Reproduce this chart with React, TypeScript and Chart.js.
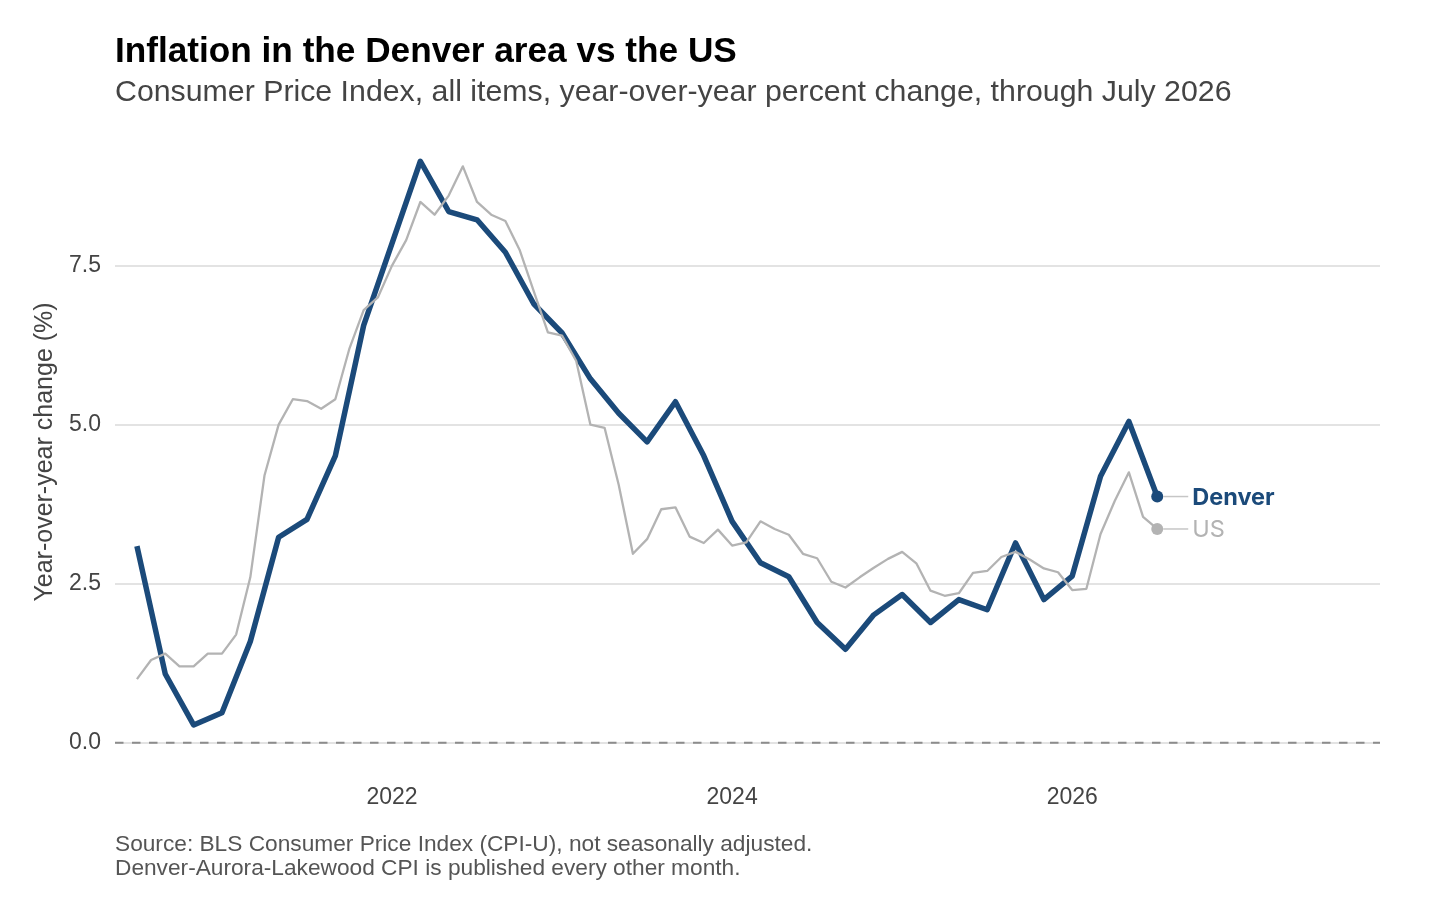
import React, { useEffect, useRef } from "react";
import { Chart, registerables } from "chart.js";

Chart.register(...registerables);

// ---------- text ----------
const TITLE = "Inflation in the Denver area vs the US";
const SUBTITLE =
  "Consumer Price Index, all items, year-over-year percent change, through July 2026";
const CAPTION = [
  "Source: BLS Consumer Price Index (CPI-U), not seasonally adjusted.",
  "Denver-Aurora-Lakewood CPI is published every other month.",
];
const Y_TITLE = "Year-over-year change (%)";

// ---------- data ----------
const usMonths = [
  "2020-07", "2020-08", "2020-09", "2020-10", "2020-11", "2020-12",
  "2021-01", "2021-02", "2021-03", "2021-04", "2021-05", "2021-06",
  "2021-07", "2021-08", "2021-09", "2021-10", "2021-11", "2021-12",
  "2022-01", "2022-02", "2022-03", "2022-04", "2022-05", "2022-06",
  "2022-07", "2022-08", "2022-09", "2022-10", "2022-11", "2022-12",
  "2023-01", "2023-02", "2023-03", "2023-04", "2023-05", "2023-06",
  "2023-07", "2023-08", "2023-09", "2023-10", "2023-11", "2023-12",
  "2024-01", "2024-02", "2024-03", "2024-04", "2024-05", "2024-06",
  "2024-07", "2024-08", "2024-09", "2024-10", "2024-11", "2024-12",
  "2025-01", "2025-02", "2025-03", "2025-04", "2025-05", "2025-06",
  "2025-07", "2025-08", "2025-09", "2025-10", "2025-11", "2025-12",
  "2026-01", "2026-02", "2026-03", "2026-04", "2026-05", "2026-06",
  "2026-07",
];
const usValues = [
  1.0, 1.3, 1.4, 1.2, 1.2, 1.4,
  1.4, 1.7, 2.6, 4.2, 5.0, 5.4, 5.37, 5.25, 5.4, 6.2, 6.8, 7.0,
  7.5, 7.9, 8.5, 8.3, 8.6, 9.06, 8.5, 8.3, 8.2, 7.75, 7.1, 6.45,
  6.4, 6.0, 5.0, 4.95, 4.05, 2.97, 3.2, 3.67, 3.7, 3.24, 3.14, 3.35,
  3.1, 3.15, 3.48, 3.36, 3.27, 2.97, 2.9, 2.53, 2.44, 2.6, 2.75, 2.89,
  3.0, 2.82, 2.39, 2.31, 2.35, 2.67, 2.7, 2.92, 3.0, 2.88, 2.74, 2.68,
  2.4, 2.42, 3.28, 3.8, 4.25, 3.55, 3.36,
];

const denverMonths = [
  "2020-07", "2020-09", "2020-11",
  "2021-01", "2021-03", "2021-05", "2021-07", "2021-09", "2021-11",
  "2022-01", "2022-03", "2022-05", "2022-07", "2022-09", "2022-11",
  "2023-01", "2023-03", "2023-05", "2023-07", "2023-09", "2023-11",
  "2024-01", "2024-03", "2024-05", "2024-07", "2024-09", "2024-11",
  "2025-01", "2025-03", "2025-05", "2025-07", "2025-09", "2025-11",
  "2026-01", "2026-03", "2026-05", "2026-07",
];
const denverValues = [
  3.09, 1.08, 0.28,
  0.47, 1.59, 3.23, 3.51, 4.51, 6.56,
  7.85, 9.14, 8.35, 8.22, 7.71, 6.9,
  6.44, 5.72, 5.18, 4.73, 5.36, 4.51,
  3.48, 2.83, 2.61, 1.89, 1.47, 2.01,
  2.33, 1.89, 2.25, 2.09, 3.14, 2.25,
  2.62, 4.19, 5.05, 3.87,
];

const seriesNames = ["US", "Denver"];
const xTickYears = [2022, 2024, 2026];
const yTickValues = [0, 2.5, 5, 7.5];

// ---------- style ----------
const FONT = "'Liberation Sans', Arial, Helvetica, sans-serif";
const LABEL_FONT = "Inter, 'Liberation Sans', sans-serif";
const DENVER_COLOR = "#1b4a7a";
const US_COLOR = "#b3b3b3";
const GRID_COLOR = "#e3e3e3";
const TEXT_COLOR = "#444444";

const toYear = (m: string) => {
  const [y, mo] = m.split("-").map(Number);
  return y + (mo - 1) / 12;
};

const zeroLinePlugin = {
  id: "zeroLine",
  beforeDatasetsDraw(chart: any) {
    const c = chart.ctx;
    const y = chart.scales.y.getPixelForValue(0);
    const { left, right } = chart.chartArea;
    c.save();
    c.strokeStyle = "#8c8c8c";
    c.lineWidth = 2;
    c.setLineDash([8.5, 8.5]);
    c.beginPath();
    c.moveTo(left, y);
    c.lineTo(right, y);
    c.stroke();
    c.restore();
  },
};

const endLabelPlugin = {
  id: "endLabels",
  afterDatasetsDraw(chart: any) {
    const c = chart.ctx;
    chart.data.datasets.forEach((ds: any, di: number) => {
      const meta = chart.getDatasetMeta(di);
      const pt = meta.data[meta.data.length - 1];
      if (!pt) return;
      const { x, y } = pt;
      const isDenver = ds.label === "Denver";
      c.save();
      c.strokeStyle = "#c6c6c6";
      c.lineWidth = 1.5;
      c.beginPath();
      c.moveTo(x + 6, y);
      c.lineTo(x + 31, y);
      c.stroke();
      c.font = `${isDenver ? 700 : 400} 23.5px ${LABEL_FONT}`;
      c.fillStyle = isDenver ? DENVER_COLOR : US_COLOR;
      c.textBaseline = "middle";
      c.textAlign = "left";
      c.fillText(ds.label, x + 35, y + 1);
      c.restore();
    });
  },
};

export default function App() {
  const ref = useRef<HTMLCanvasElement>(null);

  useEffect(() => {
    if (!ref.current) return;
    const lastUs = usValues.length - 1;
    const lastDen = denverValues.length - 1;
    const chart = new Chart(ref.current, {
      type: "line",
      data: {
        datasets: [
          {
            label: seriesNames[0],
            data: usMonths.map((m, i) => ({ x: toYear(m), y: usValues[i] })),
            borderColor: US_COLOR,
            backgroundColor: US_COLOR,
            borderWidth: 2.3,
            borderJoinStyle: "round",
            tension: 0,
            pointRadius: (ctx: any) => (ctx.dataIndex === lastUs ? 6 : 0),
            pointHoverRadius: 0,
            pointBorderWidth: 0,
            pointBackgroundColor: US_COLOR,
            order: 0,
          },
          {
            label: seriesNames[1],
            data: denverMonths.map((m, i) => ({ x: toYear(m), y: denverValues[i] })),
            borderColor: DENVER_COLOR,
            backgroundColor: DENVER_COLOR,
            borderWidth: 5.5,
            borderJoinStyle: "round",
            tension: 0,
            pointRadius: (ctx: any) => (ctx.dataIndex === lastDen ? 6 : 0),
            pointHoverRadius: 0,
            pointBorderWidth: 0,
            pointBackgroundColor: DENVER_COLOR,
            order: 1,
          },
        ],
      },
      options: {
        animation: false,
        responsive: false,
        events: [],
        layout: { padding: { top: 132, right: 76, bottom: 88, left: 0 } },
        plugins: {
          legend: { display: false },
          tooltip: { enabled: false },
          title: { display: false },
        },
        scales: {
          x: {
            type: "linear",
            min: 2020.371,
            max: 2027.81,
            afterBuildTicks: (s: any) => {
              s.ticks = xTickYears.map((v) => ({ value: v }));
            },
            afterFit: (s: any) => {
              s.height = 50;
            },
            grid: { display: false, drawTicks: false },
            border: { display: false },
            ticks: {
              callback: (v: any) => String(v),
              font: { size: 23, family: FONT },
              color: TEXT_COLOR,
              padding: 12,
              maxRotation: 0,
              autoSkip: false,
            },
          },
          y: {
            type: "linear",
            min: -0.46,
            max: 9.6,
            afterBuildTicks: (s: any) => {
              s.ticks = yTickValues.map((v) => ({ value: v }));
            },
            afterFit: (s: any) => {
              s.width = 115;
            },
            grid: { color: GRID_COLOR, lineWidth: 2, drawTicks: false },
            border: { display: false },
            ticks: {
              callback: (v: any) => Number(v).toFixed(1),
              font: { size: 23, family: FONT },
              color: TEXT_COLOR,
              padding: 14,
            },
            title: {
              display: true,
              text: Y_TITLE,
              font: { size: 25, family: FONT },
              color: TEXT_COLOR,
              padding: { top: 30, bottom: 0 },
            },
          },
        },
      },
      plugins: [zeroLinePlugin, endLabelPlugin],
    } as any);
    return () => chart.destroy();
  }, []);

  return (
    <div
      style={{
        position: "absolute",
        left: 0,
        top: 0,
        width: 1456,
        height: 910,
        background: "#ffffff",
        fontFamily: FONT,
      }}
    >
      <canvas
        ref={ref}
        width={1456}
        height={910}
        style={{ position: "absolute", left: 0, top: 0, width: 1456, height: 910 }}
      />
      <div
        style={{
          position: "absolute",
          left: 115,
          top: 32,
          fontSize: 35.2,
          lineHeight: "35px",
          fontWeight: 700,
          color: "#000000",
          whiteSpace: "nowrap",
        }}
      >
        {TITLE}
      </div>
      <div
        style={{
          position: "absolute",
          left: 115,
          top: 76,
          fontSize: 30.3,
          lineHeight: "30px",
          color: "#444444",
          whiteSpace: "nowrap",
        }}
      >
        {SUBTITLE}
      </div>
      <div
        style={{
          position: "absolute",
          left: 115,
          top: 831,
          fontSize: 22.7,
          lineHeight: "24px",
          color: "#555555",
          whiteSpace: "nowrap",
        }}
      >
        {CAPTION.map((line) => (
          <div key={line}>{line}</div>
        ))}
      </div>
    </div>
  );
}
